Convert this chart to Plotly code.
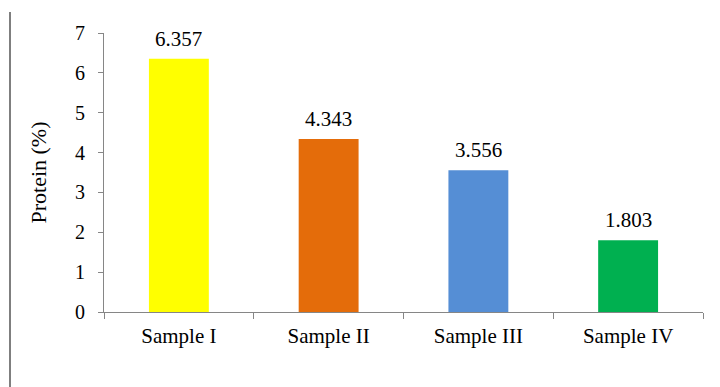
import plotly.graph_objects as go

samples = ["Sample I", "Sample II", "Sample III", "Sample IV"]
protein = [6.357, 4.343, 3.556, 1.803]
bar_colors = ["#FFFF00", "#E46C0A", "#558ED5", "#00B050"]
y_ticks = [0, 1, 2, 3, 4, 5, 6, 7]

font_family = "Liberation Serif, Times New Roman, serif"

# plot-area geometry in pixels (used for the left border rule)
L, R, T, B = 104, 17, 33, 75
W, H = 720, 387
plot_w = W - L - R
plot_h = H - T - B

fig = go.Figure(
    go.Bar(
        x=samples,
        y=protein,
        marker=dict(color=bar_colors, line=dict(width=0)),
        width=0.4,
        hoverinfo="x+y",
    )
)

# value labels above each bar
for name, val in zip(samples, protein):
    fig.add_annotation(
        x=name,
        y=val,
        text=f"{val:.3f}",
        showarrow=False,
        yanchor="bottom",
        yshift=6,
        font=dict(family=font_family, size=21, color="#000000"),
    )

fig.update_layout(
    width=W,
    height=H,
    margin=dict(l=L, r=R, t=T, b=B),
    paper_bgcolor="white",
    plot_bgcolor="white",
    showlegend=False,
    font=dict(family=font_family, size=20, color="#000000"),
    xaxis=dict(
        showline=True,
        linecolor="#868686",
        linewidth=1,
        ticks="outside",
        tickson="boundaries",
        ticklen=6,
        tickcolor="#868686",
        showgrid=False,
        tickfont=dict(family=font_family, size=21),
        ticklabelstandoff=5,
    ),
    yaxis=dict(
        range=[0, 7],
        tickvals=y_ticks,
        showline=True,
        linecolor="#868686",
        linewidth=1,
        ticks="outside",
        ticklen=5,
        tickcolor="#868686",
        showgrid=False,
        zeroline=False,
        tickfont=dict(family=font_family, size=20),
        ticklabelstandoff=9,
        title=dict(text="Protein (%)", font=dict(family=font_family, size=22), standoff=22),
    ),
    shapes=[
        dict(
            type="line",
            xref="paper",
            yref="paper",
            x0=(10 - L) / plot_w,
            x1=(10 - L) / plot_w,
            y0=(H - B - 12) / plot_h,
            y1=-B / plot_h,
            line=dict(color="#7F7F7F", width=2),
        )
    ],
)

fig.write_html("out.html")
